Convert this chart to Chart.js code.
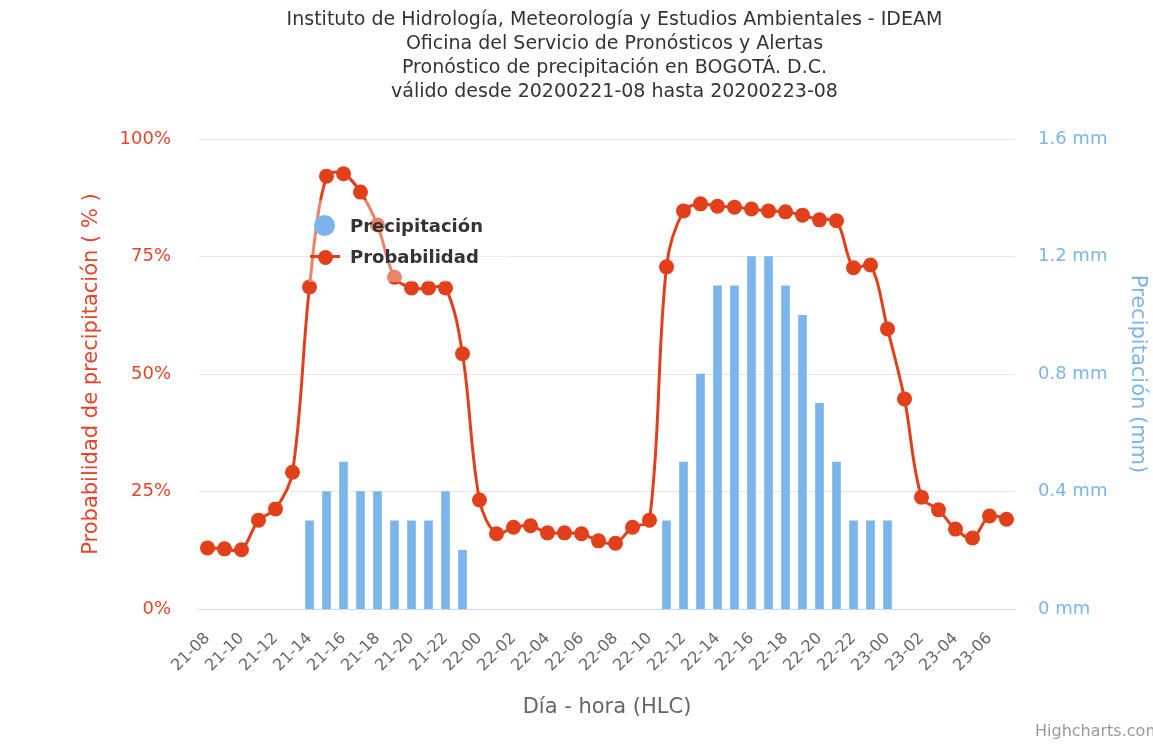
<!DOCTYPE html>
<html>
<head>
<meta charset="utf-8">
<script src="https://cdn.jsdelivr.net/npm/chart.js@4.4.1/dist/chart.umd.min.js"></script>
<style>
  html, body { margin: 0; padding: 0; background: #fff; overflow: hidden; }
  #wrap { position: relative; width: 1153px; height: 745px; overflow: hidden; }
  #chart { position: absolute; left: 0; top: 0; }
  .legend { position: absolute; left: 308px; top: 200px; width: 200px; height: 82px;
            background: rgba(255,255,255,0.35); font: bold 18px "DejaVu Sans"; color: #333; }
  .legend .txt { position: absolute; left: 42px; line-height: 22px; white-space: nowrap; }
  .legend .circ { position: absolute; left: 6px; top: 15px; width: 21px; height: 21px; border-radius: 50%; background: #7cb5ec; }
  .legend .ln { position: absolute; left: 2px; top: 55px; width: 30px; height: 3px; background: #e2401b; }
  .legend .dot { position: absolute; left: 9.5px; top: 49.5px; width: 15px; height: 15px; border-radius: 50%; background: #e2401b; }
  .credit { position: absolute; left: 1035px; top: 721px; font: 16px "DejaVu Sans"; color: #999; white-space: nowrap; }
</style>
</head>
<body>
<div id="wrap">
  <canvas id="chart" width="1232" height="745"></canvas>
  <div class="legend">
    <div class="circ"></div>
    <div class="txt" style="top:15px">Precipitación</div>
    <div class="ln"></div>
    <div class="dot"></div>
    <div class="txt" style="top:46px">Probabilidad</div>
  </div>
  <div class="credit">Highcharts.com</div>
</div>
<script>
// dia-hora (HLC)
const horas = [
  '21-08', '21-09', '21-10', '21-11', '21-12', '21-13', '21-14', '21-15',
  '21-16', '21-17', '21-18', '21-19', '21-20', '21-21', '21-22', '21-23',
  '22-00', '22-01', '22-02', '22-03', '22-04', '22-05', '22-06', '22-07',
  '22-08', '22-09', '22-10', '22-11', '22-12', '22-13', '22-14', '22-15',
  '22-16', '22-17', '22-18', '22-19', '22-20', '22-21', '22-22', '22-23',
  '23-00', '23-01', '23-02', '23-03', '23-04', '23-05', '23-06', '23-07'
];

// probabilidad de precipitacion (%)
const probabilidad = [
  13.0, 12.8, 12.6, 18.9, 21.3, 29.1, 68.5, 92.1,
  92.6, 88.7, 81.7, 70.6, 68.3, 68.3, 68.3, 54.3,
  23.2, 16.0, 17.4, 17.7, 16.2, 16.2, 16.0, 14.5,
  14.0, 17.4, 18.9, 72.8, 84.7, 86.2, 85.7, 85.5,
  85.1, 84.7, 84.5, 83.8, 82.8, 82.6, 72.6, 73.2,
  59.6, 44.7, 23.8, 21.1, 17.0, 15.1, 19.8, 19.1
];

// precipitacion (mm)
const precipitacion = [
  0, 0, 0, 0, 0, 0, 0.3, 0.4,
  0.5, 0.4, 0.4, 0.3, 0.3, 0.3, 0.4, 0.2,
  0, 0, 0, 0, 0, 0, 0, 0,
  0, 0, 0, 0.3, 0.5, 0.8, 1.1, 1.1,
  1.2, 1.2, 1.1, 1.0, 0.7, 0.5, 0.3, 0.3,
  0.3, 0, 0, 0, 0, 0, 0, 0
];

const titulo = [
  'Instituto de Hidrología, Meteorología y Estudios Ambientales - IDEAM',
  'Oficina del Servicio de Pronósticos y Alertas',
  'Pronóstico de precipitación en BOGOTÁ. D.C.',
  'válido desde 20200221-08 hasta 20200223-08'
];

const rojo = '#e2401b';
const rojoTexto = '#e5452a';
const azul = '#7cb5ec';

Chart.defaults.font.family = '"DejaVu Sans", sans-serif';

const ctx = document.getElementById('chart').getContext('2d');
const chart = new Chart(ctx, {
  type: 'bar',
  data: {
    labels: horas,
    datasets: [
      {
        type: 'line',
        label: 'Probabilidad',
        data: probabilidad,
        yAxisID: 'y',
        borderColor: rojo,
        backgroundColor: rojo,
        borderWidth: 3,
        tension: 0.35,
        pointRadius: 7.5,
        pointBorderWidth: 0,
        pointBackgroundColor: rojo
      },
      {
        type: 'bar',
        label: 'Precipitación',
        data: precipitacion,
        yAxisID: 'y1',
        // zero bars are not drawn in the original
        backgroundColor: (c) => (c.raw > 0 ? azul : 'rgba(0,0,0,0)'),
        borderWidth: 0,
        barThickness: 8
      }
    ]
  },
  options: {
    responsive: false,
    animation: false,
    layout: { padding: { left: 75, right: 78, top: 0, bottom: 21 } },
    plugins: {
      legend: { display: false },
      tooltip: { enabled: false },
      title: {
        display: true,
        text: titulo,
        color: '#333333',
        font: { size: 19, weight: 'normal', lineHeight: '24px' },
        padding: { top: 8, bottom: 35 }
      }
    },
    scales: {
      x: {
        grid: { display: false },
        border: { display: true, color: '#ccd6eb', width: 1 },
        ticks: {
          autoSkip: false,
          minRotation: 45,
          maxRotation: 45,
          color: '#666666',
          font: { size: 16 },
          padding: 12,
          callback: (v, i) => (i % 2 === 0 ? horas[i] : '')
        },
        title: {
          display: true,
          text: 'Día - hora (HLC)',
          color: '#666666',
          font: { size: 21 },
          padding: { top: 4, bottom: 4 }
        },
        afterFit: (s) => { s.height = 115; }
      },
      y: {
        position: 'left',
        min: 0,
        max: 100,
        grid: {
          color: (c) => (c.tick && c.tick.value === 0 ? '#ccd6eb' : '#e6e6e6'),
          drawTicks: false
        },
        border: { display: false },
        ticks: {
          stepSize: 25,
          color: rojoTexto,
          font: { size: 18 },
          padding: 28,
          callback: (v) => v + '%'
        },
        title: {
          display: true,
          text: 'Probabilidad de precipitación ( % )',
          color: rojoTexto,
          font: { size: 21 },
          padding: { top: 4, bottom: 4 }
        },
        afterFit: (s) => { s.width = 124; }
      },
      y1: {
        position: 'right',
        min: 0,
        max: 1.6,
        grid: { display: false, drawTicks: false },
        border: { display: false },
        ticks: {
          stepSize: 0.4,
          color: azul,
          font: { size: 18 },
          padding: 23,
          callback: (v) => (Math.round(v * 10) / 10) + ' mm'
        },
        title: {
          display: true,
          text: 'Precipitación (mm)',
          color: azul,
          font: { size: 21 },
          padding: { top: 4, bottom: 4 }
        },
        afterFit: (s) => { s.width = 139; }
      }
    }
  }
});
</script>
</body>
</html>
